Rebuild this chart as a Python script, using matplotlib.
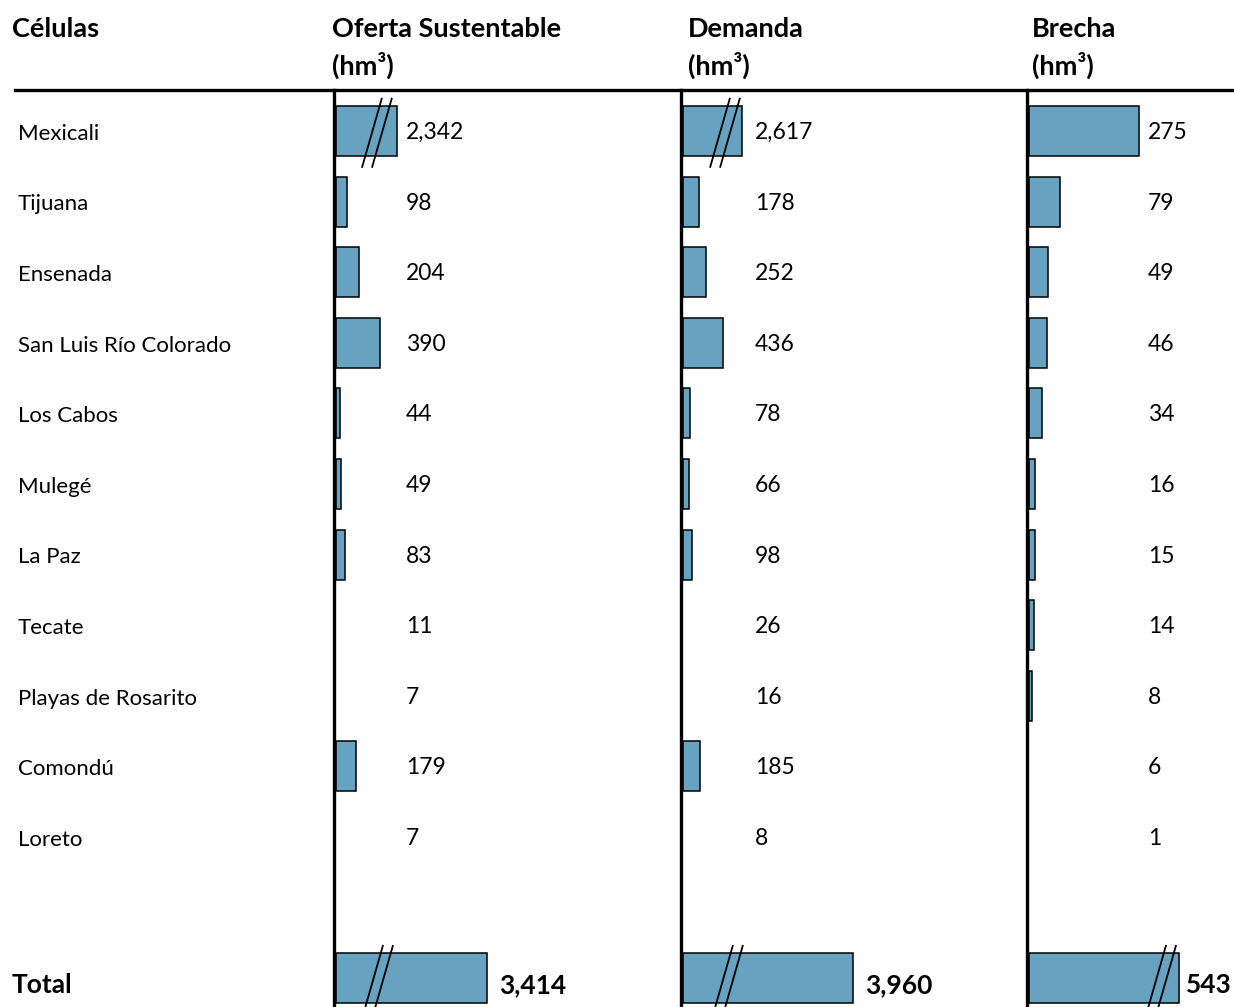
import numpy as np
import matplotlib
matplotlib.use('Agg')
import matplotlib.pyplot as plt
from matplotlib.transforms import blended_transform_factory

plt.rcParams['font.family'] = ['Lato', 'DejaVu Sans']

# Data
celulas = ['Mexicali', 'Tijuana', 'Ensenada', 'San Luis Río Colorado', 'Los Cabos',
           'Mulegé', 'La Paz', 'Tecate', 'Playas de Rosarito', 'Comondú', 'Loreto']
oferta = [2342, 98, 204, 390, 44, 49, 83, 11, 7, 179, 7]
demanda = [2617, 178, 252, 436, 78, 66, 98, 26, 16, 185, 8]
brecha = [275, 79, 49, 46, 34, 16, 15, 14, 8, 6, 1]
totales = [3414, 3960, 543]
encabezados = ['Oferta Sustentable\n(hm³)', 'Demanda\n(hm³)', 'Brecha\n(hm³)']

# broken bars: row -> (drawn length, break position), per column
cortes = [
    {0: (540, 380), 12: (1336, 390)},
    {0: (645, 473), 12: (1828, 505)},
    {12: (375, 335)},
]
xmax = [3070, 3720, 517]

W, H = 1234, 1007
COLOR = '#67a3c1'
fig = plt.figure(figsize=(W / 100, H / 100), dpi=100)

col_left = [334, 681, 1027]
col_right = [681, 1027, 1234]
top = 90
row_h = 70.6
y_top = -(131 - top) / row_h
y_bot = (H - 131) / row_h

series = [oferta, demanda, brecha]
axes = []
for k in range(3):
    ax = fig.add_axes([col_left[k] / W, 0, (col_right[k] - col_left[k]) / W, (H - top) / H])
    ax.set_xlim(0, xmax[k])
    ax.set_ylim(y_bot, y_top)
    for s in ['top', 'right', 'bottom']:
        ax.spines[s].set_visible(False)
    ax.spines['left'].set_linewidth(2.4)
    ax.set_xticks([])
    ax.set_yticks([])
    ax.patch.set_visible(False)
    axes.append(ax)

    upx = xmax[k] / (col_right[k] - col_left[k])  # data units per pixel
    vals = list(series[k]) + [totales[k]]
    rows = list(range(len(series[k]))) + [12]
    lens = [cortes[k][r][0] if r in cortes[k] else v for v, r in zip(vals, rows)]
    # bars thinner than ~3 px vanish in the original
    keep = [i for i, ln in enumerate(lens) if ln / upx >= 2.8]
    gap = 1.5 * upx
    ax.barh([rows[i] for i in keep], [lens[i] for i in keep], left=gap, height=0.71,
            color=COLOR, edgecolor='black', linewidth=1.1, zorder=2)

    # break marks
    for r, (ln, pos) in cortes[k].items():
        for off in (-5, 5):
            x0 = pos + (off - 10) * upx
            x1 = pos + (off + 10) * upx
            ax.plot([x0, x1], [r + 0.52, r - 0.47], color='black', lw=1.3, zorder=3,
                    solid_capstyle='butt', clip_on=False)

    # value labels
    vx = [0.2075, 0.214, 0.585][k]
    for i, v in enumerate(series[k]):
        ax.text(vx, i + 0.02, f'{v:,}', transform=blended_transform_factory(ax.transAxes, ax.transData),
                ha='left', va='center', fontsize=16.5, color='black')
    tl = cortes[k][12][0] + gap
    ax.annotate(f'{totales[k]:,}', (tl, 12.1), xytext=([9, 9, 5][k], 0), textcoords='offset points',
                ha='left', va='center', fontsize=19, fontweight='bold')

# row labels
tr = blended_transform_factory(fig.transFigure, axes[0].transData)
for i, c in enumerate(celulas):
    fig.text(18 / W, 0, c, transform=tr, fontsize=16, va='center')
    fig.texts[-1].set_y(i + 0.04)
fig.text(12 / W, 0, 'Total', transform=tr, fontsize=19, fontweight='bold', va='center')
fig.texts[-1].set_y(12.1)

# header
fig.text(12 / W, 1 - 29 / H, 'Células', fontsize=19.5, fontweight='bold', va='center')
hx = [332, 688, 1032]
for k in range(3):
    fig.text(hx[k] / W, 1 - 48 / H, encabezados[k], fontsize=19.5, fontweight='bold',
             va='center', linespacing=1.5)
fig.add_artist(plt.Line2D([15 / W, 1], [1 - top / H, 1 - top / H], color='black', lw=2.4))

plt.savefig('out.png', dpi=100)
